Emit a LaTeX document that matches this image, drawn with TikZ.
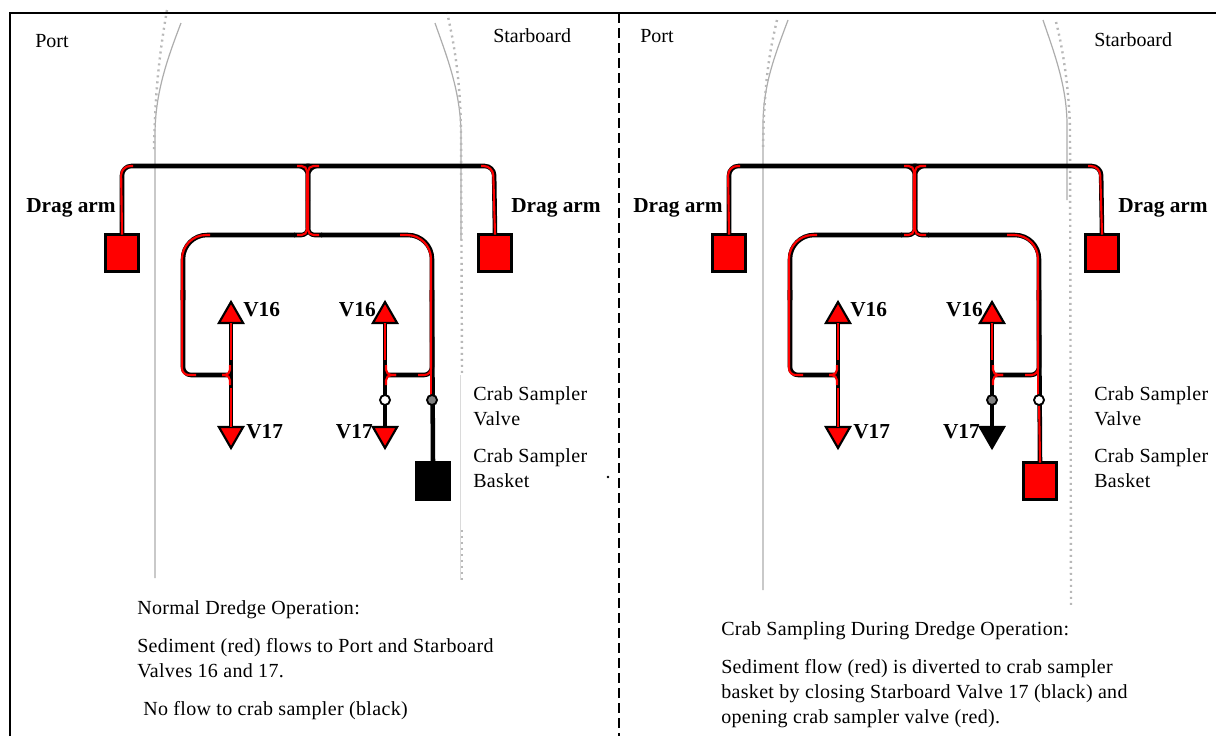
\documentclass[tikz,border=0pt]{standalone}
\usepackage{fontspec}
\setmainfont{Liberation Serif}
\newfontfamily\spacedserif[LetterSpace=1.7]{Liberation Serif}
\usetikzlibrary{shapes.geometric}
\definecolor{hullgrey}{gray}{0.68}
\definecolor{hulldot}{gray}{0.72}
\tikzset{
  x=0.75pt,y=-0.75pt,
  blackpipe/.style={draw=black,line width=3.4pt,line join=round},
  redpipe/.style={draw=red,line width=1.6pt,line join=round},
  bluntpipe/.style={draw=black,line width=3.4pt},
  tank/.style={draw=black,line width=2.2pt,minimum width=24.6pt,minimum height=27.6pt,inner sep=0pt,outer sep=0pt},
  tip/.style={regular polygon,regular polygon sides=3,draw=black,line width=1.6pt,minimum size=21pt,inner sep=0pt,outer sep=0pt},
  tipdown/.style={tip,shape border rotate=180},
  valve/.style={circle,draw=black,line width=1.4pt,minimum size=7.5pt,inner sep=0pt,outer sep=0pt},
  boldlabel/.style={font=\fontsize{16}{18}\selectfont\bfseries,inner sep=0pt},
  plain/.style={font=\fontsize{15}{18.75}\selectfont,inner sep=0pt,align=left},
  spaced/.style={font=\spacedserif\fontsize{15}{18.75}\selectfont,inner sep=0pt,align=left},
  hull/.style={draw=hullgrey,line width=0.9pt},
  hulldots/.style={draw=hulldot,line width=1.8pt,dash pattern=on 1.5pt off 3pt},
  frameline/.style={draw=black,line width=2.2pt}
}
% #1 prefix, #2 V17-right fill, #3 crab tank fill, #4 inner valve fill, #5 crab valve fill, #6 crab pipe lower colour
\newcommand{\dredgelayout}[6]{
  \node[tank,fill=red] (#1armL) at (122,253) {};
  \node[tank,fill=red] (#1armR) at (495,253) {};
  \node[tank,fill=#3] (#1crab) at (433,481) {};
  \node[tip,fill=red] (#1v16L) at (231,316) {};
  \node[tip,fill=red] (#1v16R) at (385,316) {};
  \node[tipdown,fill=red] (#1v17L) at (231,434) {};
  \node[tipdown,fill=#2] (#1v17R) at (385,434) {};
  \coordinate (#1top) at (308,200);
  \coordinate (#1jL) at (231,375);
  \coordinate (#1jR) at (385,375);
  % black body
  \draw[blackpipe,rounded corners=7pt] (#1armL.north) -- (122,166) -- (300,166) -- (308,166) -- (#1top);
  \draw[blackpipe,rounded corners=7pt] (#1armR.north) -- (494,166) -- (316,166) -- (308,166) -- (#1top);
  \draw[blackpipe,rounded corners=5pt] (#1top) -- (308,235) -- (294,235);
  \draw[blackpipe,rounded corners=5pt] (#1top) -- (308,235) -- (322,235);
  \draw[blackpipe,rounded corners=18pt] (295,235) -- (183,235) -- (183,300);
  \draw[blackpipe,rounded corners=18pt] (321,235) -- (432,235) -- (432,300);
  \draw[blackpipe,rounded corners=6pt] (183,290) -- (183,375) -- (#1jL);
  \draw[blackpipe,rounded corners=6pt] (432,290) -- (432,375) -- (#1jR);
  \draw[blackpipe] (#1v16L.south) -- (#1v17L.north);
  \draw[blackpipe] (#1v16R.south) -- (#1v17R.north);
  \draw[bluntpipe] (432,300) -- (#1crab.north);
  % red flow
  \draw[redpipe,rounded corners=7pt] (#1armL.north) -- (121,166) -- (133,166);
  \draw[redpipe,rounded corners=7pt] (#1armR.north) -- (493,166) -- (481,166);
  \draw[redpipe,rounded corners=4pt] (297,166) -- (307,166) -- (307,235) -- (297,235);
  \draw[redpipe,rounded corners=4pt] (319,166) -- (308,166) -- (308,235) -- (319,235);
  \draw[redpipe,rounded corners=18pt] (210,235) -- (182,235) -- (182,300);
  \draw[redpipe,rounded corners=18pt] (400,235) -- (431,235) -- (431,300);
  \draw[redpipe,rounded corners=5pt] (182,290) -- (182,375) -- (196,375);
  \draw[redpipe,rounded corners=5pt] (431,290) -- (431,375) -- (418,375);
  \draw[redpipe] (#1v16L.south) -- (231,360);
  \draw[redpipe] (231,388) -- (#1v17L.north);
  \draw[redpipe,rounded corners=4pt] (222,375) -- (230,375) -- (230,365);
  \draw[redpipe,rounded corners=4pt] (222,375) -- (230,375) -- (230,385);
  \draw[redpipe] (#1v16R.south) -- (385,360);
  \draw[redpipe,rounded corners=4pt] (396,375) -- (386,375) -- (386,365);
  \draw[redpipe,rounded corners=4pt] (396,375) -- (386,375) -- (386,385);
  \draw[redpipe] (431,300) -- (431,400);
  \draw[draw=#6,line width=1.6pt] (432,400) -- (#1crab.north);
  \node[valve,fill=#4] (#1vin) at (385,400) {};
  \node[valve,fill=#5] (#1vcr) at (432,400) {};
  % labels
  \node[boldlabel,anchor=base west] (#1lv16a) at (243,316) {V16};
  \node[boldlabel,anchor=base east] (#1lv16b) at (376,316) {V16};
  \node[boldlabel,anchor=base west] (#1lv17a) at (246,438) {V17};
  \node[boldlabel,anchor=base east] (#1lv17b) at (373,438) {V17};
  \node[boldlabel,anchor=base west] (#1ldra) at (26,212) {Drag arm};
  \node[boldlabel,anchor=base west] (#1ldrb) at (511,212) {Drag arm};
}
\begin{document}
\begin{tikzpicture}
\useasboundingbox (0,0) rectangle (1216,736);
\fill[white] (0,0) rectangle (1216,736);
% hulls, left panel
\draw[hull] (181,23) .. controls (166,62) and (155,95) .. (155,135) -- (155,578);
\draw[hull] (435,23) .. controls (445,52) and (461,90) .. (461,135) -- (461,240);
\draw[draw=hullgrey!45,line width=0.7pt] (460,375) -- (460,580);
\draw[hulldots] (167,10) .. controls (160,50) and (155,90) .. (154,150);
\draw[hulldots] (447,12) .. controls (452,35) and (460,70) .. (461,130) -- (462,375);
\draw[hulldots] (462,530) -- (462,582);
% hulls, right panel
\draw[hull] (788,20) .. controls (775,55) and (763,85) .. (763,125) -- (763,590);
\draw[hull] (1043,20) .. controls (1053,50) and (1067,85) .. (1067,125) -- (1067,200);
\draw[hulldots] (777,20) .. controls (770,50) and (764,80) .. (763,150);
\draw[hulldots] (1056,22) .. controls (1062,45) and (1069,85) .. (1070,130) -- (1071,606);
% frame
\draw[frameline] (10,736) -- (10,13) -- (1216,13);
\draw[frameline,dash pattern=on 7.5pt off 3.75pt] (619,13) -- (619,736);
\fill (608,477) circle (1pt);
% diagrams
\dredgelayout{a}{red}{black}{white}{gray}{black}
\begin{scope}[xshift=455.25pt]
\dredgelayout{b}{black}{red}{gray}{white}{red}
\end{scope}
% text, left panel
\node[plain,anchor=base west] (t1) at (35,47) {Port};
\node[plain,anchor=base west] (t2) at (493,42) {Starboard};
\node[spaced,anchor=north west] (t3) at (473,386) {Crab Sampler\\Valve};
\node[spaced,anchor=north west] (t4) at (473,448) {Crab Sampler\\Basket};
\node[spaced,anchor=base west] (t5) at (137,614) {Normal Dredge Operation:};
\node[spaced,anchor=north west] (t6) at (137,638) {Sediment (red) flows to Port and Starboard\\Valves 16 and 17.};
\node[spaced,anchor=base west] (t7) at (143,715) {No flow to crab sampler (black)};
% text, right panel
\node[plain,anchor=base west] (t8) at (640,42) {Port};
\node[plain,anchor=base west] (t9) at (1094,46) {Starboard};
\node[spaced,anchor=north west] (t10) at (1094,386) {Crab Sampler\\Valve};
\node[spaced,anchor=north west] (t11) at (1094,448) {Crab Sampler\\Basket};
\node[spaced,anchor=base west] (t12) at (721,635) {Crab Sampling During Dredge Operation:};
\node[spaced,anchor=north west] (t13) at (721,659) {Sediment flow (red) is diverted to crab sampler\\basket by closing Starboard Valve 17 (black) and\\opening crab sampler valve (red).};
\end{tikzpicture}
\end{document}
